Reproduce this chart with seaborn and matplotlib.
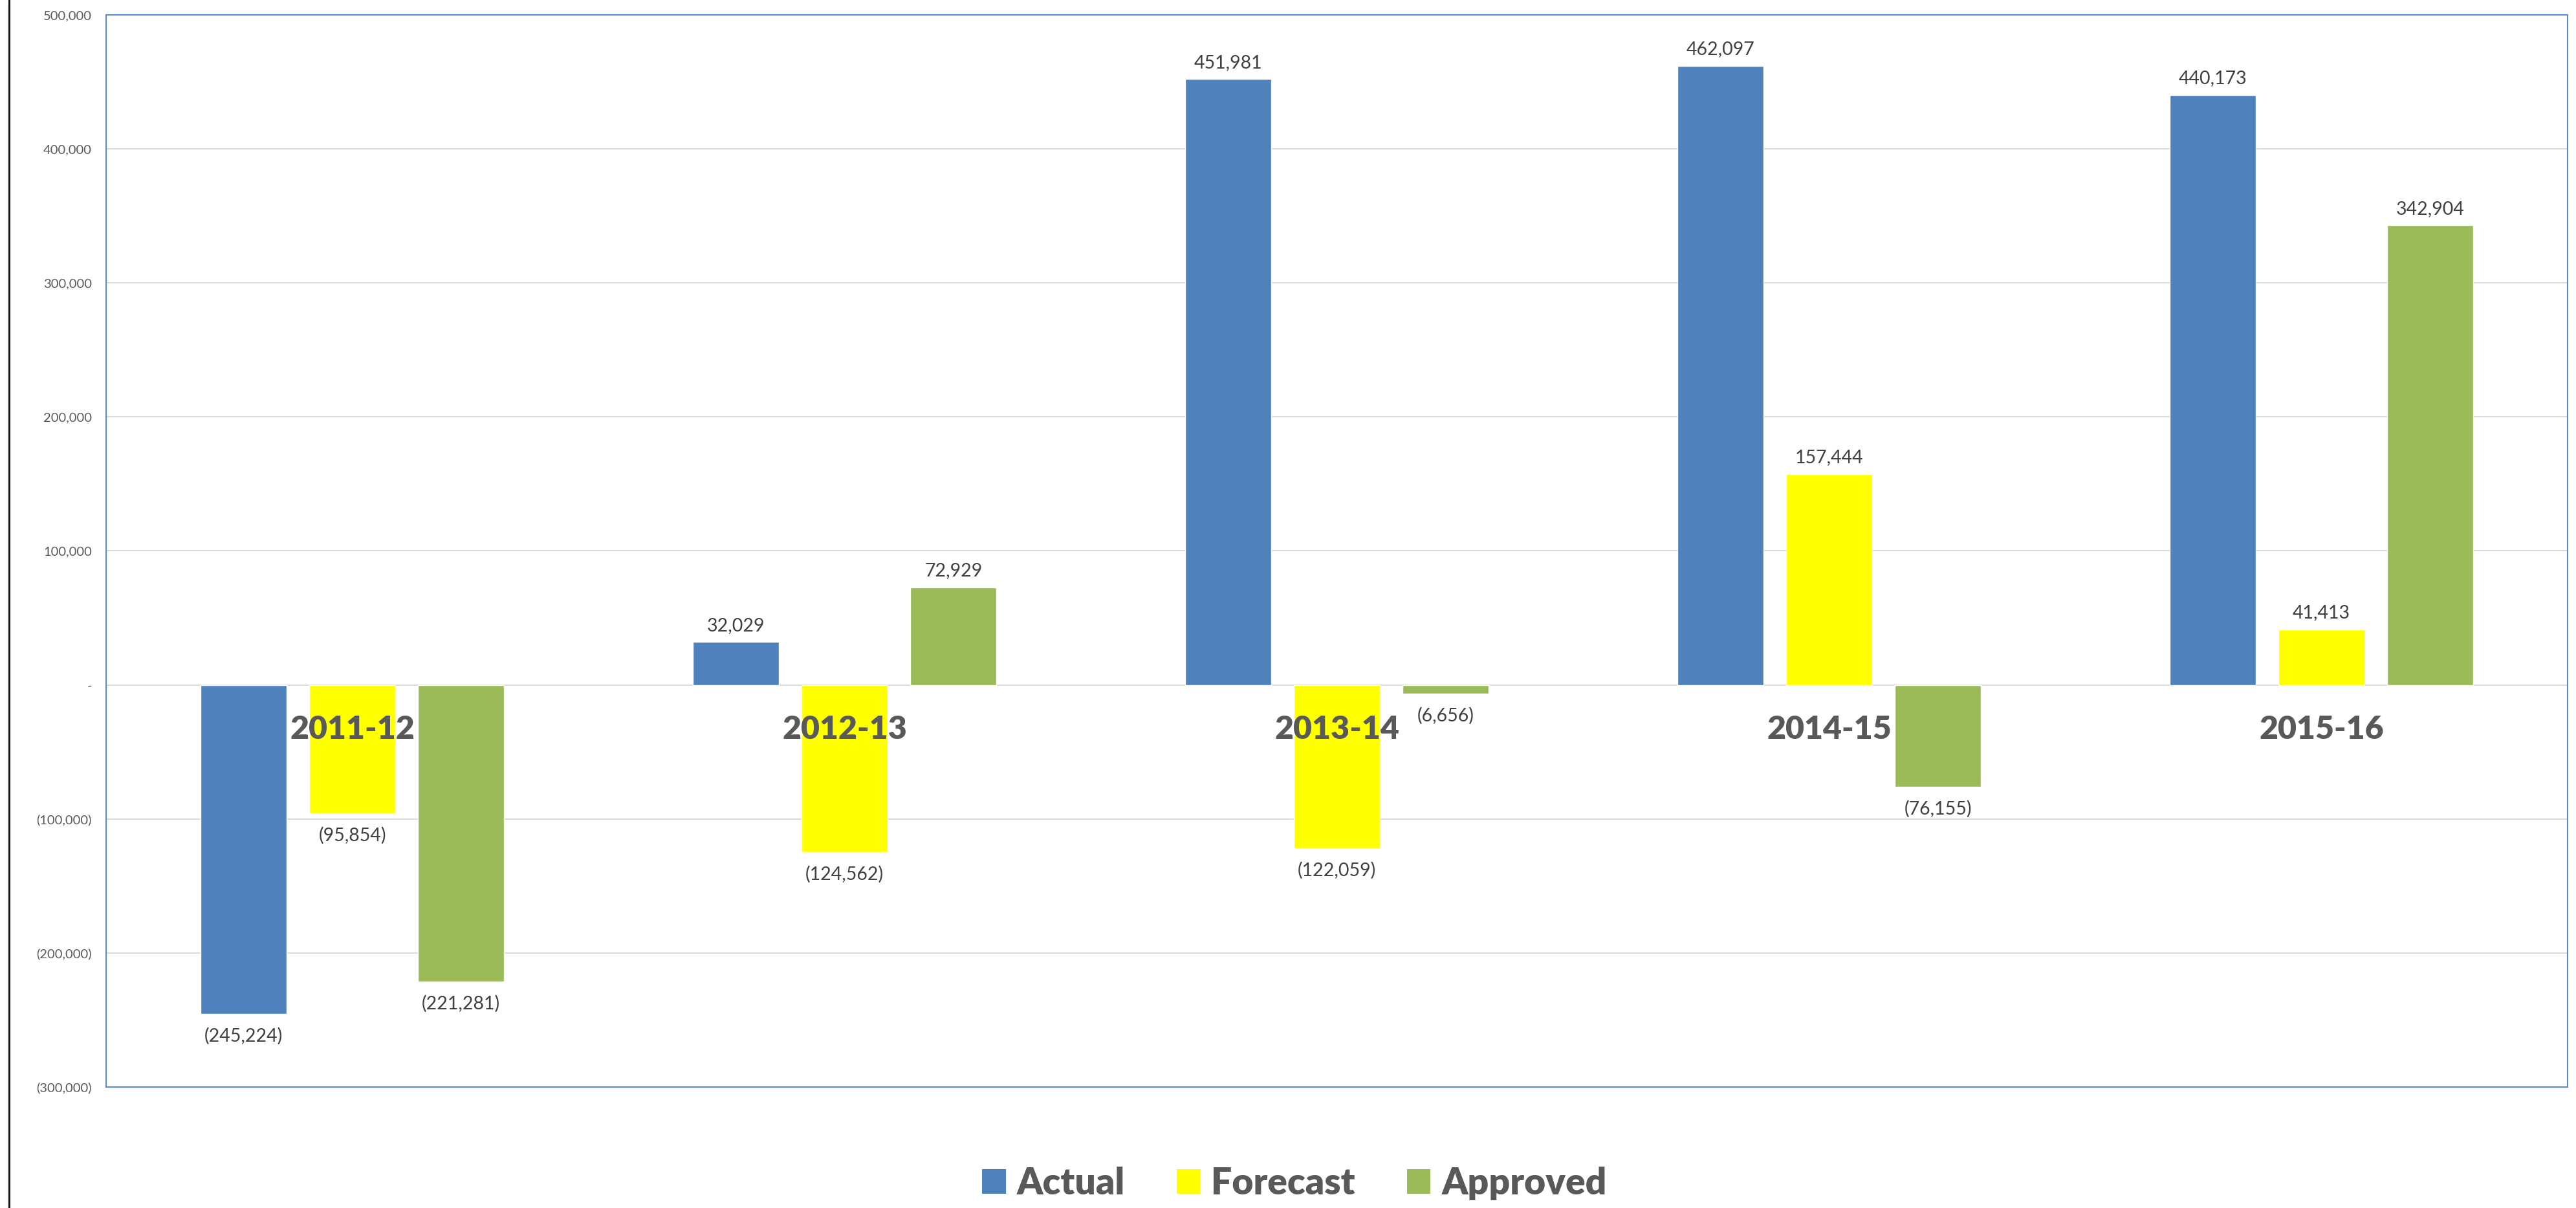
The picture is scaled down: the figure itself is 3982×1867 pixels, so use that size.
import matplotlib
matplotlib.use("Agg")
import matplotlib.pyplot as plt
import seaborn as sns
import pandas as pd
from matplotlib.lines import Line2D
from matplotlib.patches import Patch
from matplotlib.ticker import FuncFormatter, MultipleLocator

# Budget variance by financial year
years = ["2011-12", "2012-13", "2013-14", "2014-15", "2015-16"]
actual = [-245224, 32029, 451981, 462097, 440173]
forecast = [-95854, -124562, -122059, 157444, 41413]
approved = [-221281, 72929, -6656, -76155, 342904]
series = ["Actual", "Forecast", "Approved"]
colors = ["#4F81BD", "#FFFF00", "#9BBB59"]

rows = []
for name, vals in zip(series, [actual, forecast, approved]):
    for yr, v in zip(years, vals):
        rows.append({"Year": yr, "Series": name, "Value": v})
df = pd.DataFrame(rows)

sns.set_theme(style="white")
plt.rcParams["font.family"] = ["Lato", "DejaVu Sans"]

TEXT = "#595959"
LABEL = "#404040"

fig = plt.figure(figsize=(39.82, 18.67), dpi=100)
ax = fig.add_axes([164 / 3982, 1 - 1680 / 1867, (3969 - 164) / 3982, (1680 - 23) / 1867])

sns.barplot(data=df, x="Year", y="Value", hue="Series", order=years,
            hue_order=series, palette=colors, saturation=1, width=0.663,
            gap=0.21, errorbar=None, legend=False, ax=ax, zorder=2)

ax.set_xlim(-0.5, 4.5)
ax.set_ylim(-300000, 500000)
ax.yaxis.set_major_locator(MultipleLocator(100000))


def money(v, _pos=None):
    if v == 0:
        return "-"
    if v < 0:
        return "({:,.0f})".format(-v)
    return "{:,.0f}".format(v)


ax.yaxis.set_major_formatter(FuncFormatter(money))
ax.tick_params(axis="y", length=0, pad=16, labelsize=14.5, labelcolor=TEXT)
ax.set_xticks([])
ax.set_xlabel("")
ax.set_ylabel("")
ax.grid(axis="y", color="#D9D9D9", lw=1.4, zorder=0)
ax.set_axisbelow(True)
for sp in ax.spines.values():
    sp.set_visible(True)
    sp.set_color("#5B8BD0")
    sp.set_linewidth(1.5)

# value labels: above positive bars, below negative ones
for cont in ax.containers:
    vals = cont.datavalues
    ax.bar_label(cont, labels=[money(v) if v > 0 else "" for v in vals],
                 padding=9, fontsize=20.5, color=LABEL)
    ax.bar_label(cont, labels=[money(v) if v < 0 else "" for v in vals],
                 padding=15, fontsize=20.5, color=LABEL)

# category labels sit just under the zero line
for i, yr in enumerate(years):
    ax.annotate(yr, xy=(i, 0), xytext=(0, -69), textcoords="offset pixels",
                ha="center", va="center", fontsize=36, fontweight="heavy",
                color=TEXT, zorder=5)

handles = [Patch(facecolor=c, edgecolor="none", label=s) for s, c in zip(series, colors)]
leg = fig.legend(handles=handles, loc="center", bbox_to_anchor=(2001 / 3982, 1 - 1829 / 1867),
                 ncol=3, frameon=False, prop={"size": 41, "weight": "heavy"},
                 handlelength=0.64, handleheight=0.64, handletextpad=0.3,
                 columnspacing=1.4, borderpad=0)
for t in leg.get_texts():
    t.set_color(TEXT)

fig.add_artist(Line2D([14 / 3982, 14 / 3982], [0, 1], transform=fig.transFigure,
                      color="#1a1a1a", lw=2.2))

fig.savefig("out.png", dpi=100, facecolor="white")
